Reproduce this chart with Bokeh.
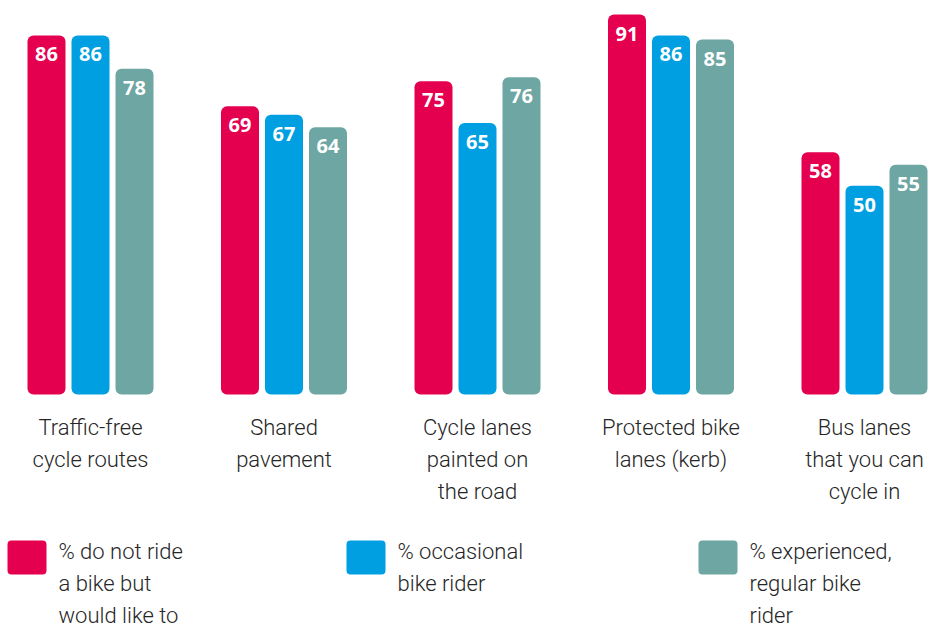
from bokeh.plotting import figure
from bokeh.models import Range1d, ColumnDataSource
from bokeh.core.properties import value
from bokeh.embed import file_html
from bokeh.resources import INLINE

# ---- data ----
categories = ["Traffic-free\ncycle routes", "Shared\npavement", "Cycle lanes\npainted on\nthe road",
              "Protected bike\nlanes (kerb)", "Bus lanes\nthat you can\ncycle in"]
series_names = ["% do not ride\na bike but\nwould like to", "% occasional\nbike rider",
                "% experienced,\nregular bike\nrider"]
non_riders = [86, 69, 75, 91, 58]
occasional = [86, 67, 65, 86, 50]
experienced = [78, 64, 76, 85, 55]
series_values = [non_riders, occasional, experienced]
colors = ["#E4004F", "#009FE1", "#6DA6A2"]
text_color = "#262626"

# ---- layout ----
OFF = 0
W, H = 931, 626
PX_PER_GROUP = 193.5
X0 = (OFF - 90) / PX_PER_GROUP
X1 = X0 + W / PX_PER_GROUP
PX_PER_UNIT = (394 - 14) / 91.0
Y1 = 91 + (14 - OFF) / PX_PER_UNIT
Y0 = Y1 - H / PX_PER_UNIT

def xd(sx):
    return X0 + (sx - OFF) / PX_PER_GROUP

def yd(sy):
    return Y1 - (sy - OFF) / PX_PER_UNIT

p = figure(width=W, height=H, output_backend="svg", toolbar_location=None,
           x_range=Range1d(X0, X1), y_range=Range1d(Y0, Y1), min_border=0)
p.axis.visible = False
p.grid.visible = False
p.outline_line_color = None
p.background_fill_color = "white"
p.border_fill_color = "white"

offsets = [-0.2274, 0.0, 0.2274]
bar_w = 38 / PX_PER_GROUP
label_font = value("Roboto Light")

for s, vals in enumerate(series_values):
    xs = [i + offsets[s] for i in range(len(vals))]
    src = ColumnDataSource(dict(x=xs, top=vals, lab=[str(v) for v in vals]))
    p.vbar(x="x", top="top", bottom=0, width=bar_w, source=src, fill_color=colors[s],
           line_color=None, border_radius=6)
    p.text(x="x", y="top", text="lab", source=src, text_color="white",
           text_font=value("Open Sans"), text_font_style="bold", text_font_size="20px",
           text_align="center", text_baseline="middle", y_offset=19)

# category labels
cat_src = ColumnDataSource(dict(x=list(range(len(categories))), y=[yd(414)] * len(categories),
                                t=categories))
p.text(x="x", y="y", text="t", source=cat_src, text_color=text_color, text_font=label_font,
       text_font_size="22px", text_align="center", text_baseline="top", text_line_height=1.29)

# legend
leg_sq_x = [7, 346, 698]
leg_tx_x = [58, 397, 749]
for s in range(3):
    p.block(x=xd(leg_sq_x[s]), y=yd(574), width=39 / PX_PER_GROUP, height=34 / PX_PER_UNIT,
            fill_color=colors[s], line_color=None, border_radius=4)
    p.text(x=xd(leg_tx_x[s]), y=yd(538), text=[series_names[s]], text_color=text_color,
           text_font=label_font, text_font_size="22px", text_align="left", text_baseline="top",
           text_line_height=1.28)

open("out.html", "w").write(file_html(p, INLINE))
